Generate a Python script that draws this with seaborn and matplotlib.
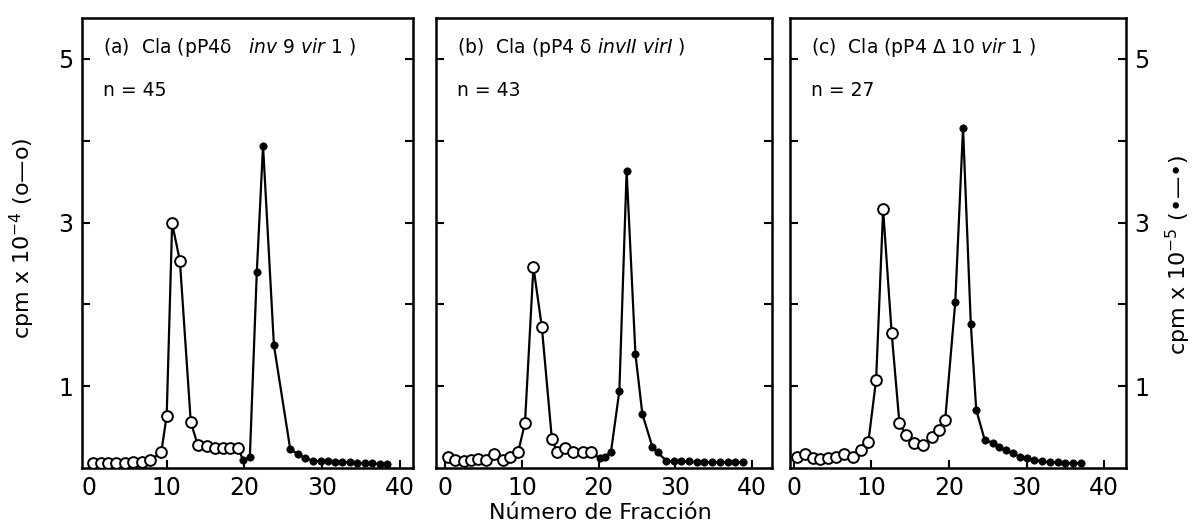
import matplotlib
matplotlib.use("Agg")
import matplotlib.pyplot as plt
import pandas as pd
import seaborn as sns

# ---------------- data ----------------
a_open_x = [0.5, 1.5, 2.5, 3.5, 4.6, 5.7, 6.8, 7.9, 9.3, 10.0, 10.7, 11.7, 13.1, 14.0, 15.2, 16.2, 17.2, 18.1, 19.2]
a_open_y = [0.06, 0.06, 0.06, 0.06, 0.06, 0.07, 0.07, 0.10, 0.19, 0.64, 2.99, 2.53, 0.56, 0.28, 0.27, 0.25, 0.24, 0.24, 0.25]
a_fill_x = [19.8, 20.7, 21.6, 22.4, 23.8, 25.9, 26.9, 27.8, 28.8, 29.8, 30.7, 31.7, 32.6, 33.6, 34.5, 35.5, 36.4, 37.4, 38.3]
a_fill_y = [0.10, 0.13, 2.40, 3.94, 1.50, 0.23, 0.17, 0.12, 0.09, 0.08, 0.08, 0.07, 0.07, 0.07, 0.06, 0.06, 0.06, 0.05, 0.05]

b_open_x = [0.3, 1.3, 2.4, 3.3, 4.3, 5.3, 6.4, 7.5, 8.5, 9.5, 10.4, 11.5, 12.6, 13.9, 14.6, 15.6, 16.7, 17.9, 19.0]
b_open_y = [0.14, 0.10, 0.09, 0.10, 0.11, 0.10, 0.17, 0.10, 0.13, 0.19, 0.55, 2.46, 1.72, 0.36, 0.19, 0.25, 0.19, 0.19, 0.19]
b_fill_x = [20.2, 20.8, 21.6, 22.7, 23.65, 24.8, 25.7, 27.0, 27.7, 28.8, 29.8, 30.8, 31.8, 32.8, 33.8, 34.8, 35.8, 36.8, 37.8, 38.8]
b_fill_y = [0.12, 0.14, 0.19, 0.94, 3.63, 1.39, 0.66, 0.26, 0.19, 0.09, 0.08, 0.08, 0.08, 0.07, 0.07, 0.07, 0.07, 0.07, 0.07, 0.07]

c_open_x = [0.35, 1.4, 2.4, 3.35, 4.4, 5.4, 6.45, 7.65, 8.6, 9.6, 10.6, 11.5, 12.6, 13.6, 14.5, 15.5, 16.6, 17.8, 18.7, 19.5]
c_open_y = [0.14, 0.17, 0.12, 0.11, 0.12, 0.13, 0.17, 0.14, 0.22, 0.32, 1.08, 3.16, 1.65, 0.55, 0.40, 0.30, 0.28, 0.38, 0.46, 0.59]
c_fill_x = [20.8, 21.8, 22.8, 23.5, 24.6, 25.6, 26.4, 27.3, 28.2, 29.1, 30.0, 31.0, 32.0, 33.0, 34.0, 35.0, 36.0, 37.0]
c_fill_y = [2.03, 4.16, 1.76, 0.71, 0.34, 0.31, 0.26, 0.22, 0.18, 0.14, 0.12, 0.10, 0.08, 0.07, 0.07, 0.06, 0.06, 0.06]

titles = [r"(a)  Cla (pP4δ   $\it{inv}$ 9 $\it{vir}$ 1 )",
          r"(b)  Cla (pP4 δ $\it{invII}$ $\it{virI}$ )",
          r"(c)  Cla (pP4 Δ 10 $\it{vir}$ 1 )"]
n_labels = ["n = 45", "n = 43", "n = 27"]
x_ticks = [0, 10, 20, 30, 40]
y_ticks = [1, 2, 3, 4, 5]
y_ticklabels = ["1", "", "3", "", "5"]
x_label = "Número de Fracción"
y_label_left = r"cpm x 10$^{-4}$ (o—o)"
y_label_right = r"cpm x 10$^{-5}$ (•—•)"

panels = [
    (a_open_x, a_open_y, a_fill_x, a_fill_y),
    (b_open_x, b_open_y, b_fill_x, b_fill_y),
    (c_open_x, c_open_y, c_fill_x, c_fill_y),
]

# ---------------- figure ----------------
sns.set_theme(style="white")
plt.rcParams['font.family'] = ['DejaVu Sans']
plt.rcParams['mathtext.fontset'] = 'dejavusans'
plt.rcParams['text.color'] = 'black'

W, H = 1196, 529
fig = plt.figure(figsize=(W / 100, H / 100), dpi=100)
fig.patch.set_facecolor("white")

pix = [(82, 413), (436, 772), (790, 1126)]
xlims = [(-0.9, 41.7), (-1.2, 42.6), (-0.5, 42.8)]
top_px, bot_px = 18, 468

for i, (ox, oy, fx, fy) in enumerate(panels):
    l, r = pix[i]
    ax = fig.add_axes([l / W, 1 - bot_px / H, (r - l) / W, (bot_px - top_px) / H])
    ax.set_facecolor("white")
    df = pd.DataFrame({"x": list(ox) + list(fx), "y": list(oy) + list(fy)})
    sns.lineplot(data=df, x="x", y="y", sort=False, estimator=None,
                 color="black", linewidth=1.6, ax=ax, zorder=2)
    sns.scatterplot(x=ox, y=oy, marker="o", s=60, facecolor="white",
                    edgecolor="black", linewidth=1.4, ax=ax, zorder=3)
    sns.scatterplot(x=fx, y=fy, marker="o", s=28, color="black",
                    edgecolor="black", linewidth=0.5, ax=ax, zorder=3)
    ax.set_xlim(*xlims[i])
    ax.set_ylim(0, 5.5)
    ax.set_xticks(x_ticks)
    ax.set_xticklabels([str(t) for t in x_ticks], fontsize=17, color="black")
    ax.set_yticks(y_ticks)
    ax.set_yticklabels(y_ticklabels, fontsize=17, color="black")
    ax.set_xlabel("")
    ax.set_ylabel("")
    for s in ax.spines.values():
        s.set_color("black")
        s.set_linewidth(1.8)
    ax.tick_params(axis="both", direction="in", length=6, width=1.5,
                   colors="black", left=True, right=True, bottom=True, top=False,
                   pad=6)
    if i == 0:
        ax.tick_params(axis="y", labelleft=True, labelright=False)
    elif i == 2:
        ax.tick_params(axis="y", labelleft=False, labelright=True)
    else:
        ax.tick_params(axis="y", labelleft=False, labelright=False)
    ax.text(0.063, 0.935, titles[i], transform=ax.transAxes, fontsize=13.5,
            ha="left", va="center", color="black")
    ax.text(0.063, 0.84, n_labels[i], transform=ax.transAxes, fontsize=13.5,
            ha="left", va="center", color="black")

fig.text(600 / W, 1 - 513 / H, x_label, ha="center", va="center", fontsize=16, color="black")
fig.text(22 / W, 1 - 238 / H, y_label_left, rotation=90, ha="center", va="center",
         fontsize=16, color="black")
fig.text(1178 / W, 1 - 255 / H, y_label_right, rotation=90, ha="center", va="center",
         fontsize=16, color="black")

fig.savefig("out.png", dpi=100, facecolor="white")
